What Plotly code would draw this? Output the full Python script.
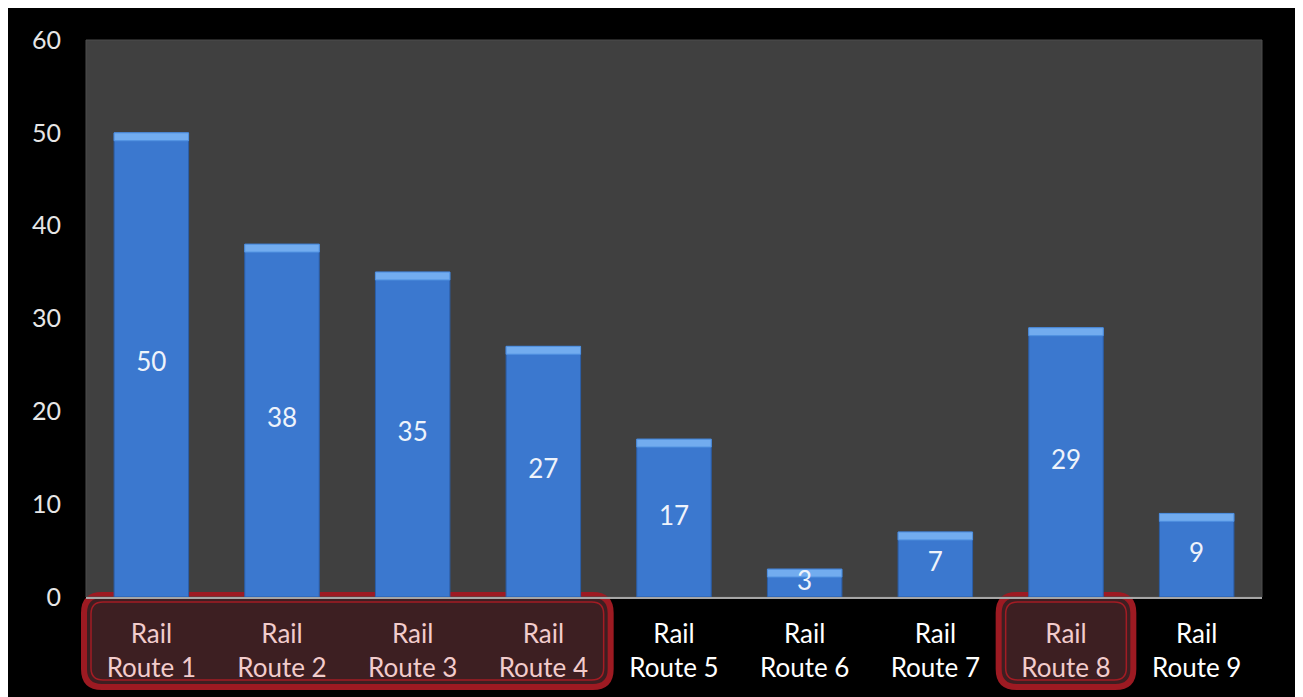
import plotly.graph_objects as go

# ---- data ----
categories = ["Rail Route 1", "Rail Route 2", "Rail Route 3", "Rail Route 4", "Rail Route 5",
              "Rail Route 6", "Rail Route 7", "Rail Route 8", "Rail Route 9"]
values = [50, 38, 35, 27, 17, 3, 7, 29, 9]
highlight_groups = [(0, 3), (7, 7)]   # index ranges of highlighted labels
y_ticks = [0, 10, 20, 30, 40, 50, 60]

# ---- layout constants (figure pixels) ----
W, H = 1295, 689
ML, MR, MT, MB = 78, 41, 32, 100
PW, PH = W - ML - MR, H - MT - MB
N = len(categories)


def px(x):
    return (x - ML) / PW


def py(y):
    return (H - MB - y) / PH


highlighted = set()
for a, b in highlight_groups:
    highlighted.update(range(a, b + 1))


def tick_label(i, name):
    first, second = name.split(" ", 1)
    if i in highlighted:
        c = "#f2cccc"
        return f"<span style='color:{c}'>{first}</span><br><span style='color:{c}'>{second}</span>"
    return f"{first}<br>{second}"


xs = list(range(N))
ticktext = [tick_label(i, c) for i, c in enumerate(categories)]

BEVEL = 0.85
FONT = "Lato"

fig = go.Figure()
fig.add_trace(go.Bar(
    x=xs, y=values, width=0.57,
    marker=dict(color="#3b78cf", line=dict(color="#2b5ea8", width=1)),
    hoverinfo="skip", showlegend=False,
))
fig.add_trace(go.Bar(
    x=xs, y=[BEVEL] * N, base=[v - BEVEL for v in values], width=0.57,
    marker=dict(color="#72acef", line=dict(color="#4f90e0", width=1)),
    hoverinfo="skip", showlegend=False,
))
fig.add_trace(go.Scatter(
    x=xs, y=[v / 2 for v in values], mode="text", text=[str(v) for v in values],
    textposition="middle center",
    textfont=dict(family=FONT, size=26, color="#eef3fb"),
    hoverinfo="skip", showlegend=False, cliponaxis=False,
))


def rrect(x0, x1, yt, yb, rx, ry):
    return (f"M {x0 + rx},{yt} L {x1 - rx},{yt} Q {x1},{yt} {x1},{yt - ry} "
            f"L {x1},{yb + ry} Q {x1},{yb} {x1 - rx},{yb} "
            f"L {x0 + rx},{yb} Q {x0},{yb} {x0},{yb + ry} "
            f"L {x0},{yt - ry} Q {x0},{yt} {x0 + rx},{yt} Z")


shapes = []
# white page edge on the right (under everything else)
shapes.append(dict(type="rect", xref="paper", yref="paper", x0=px(1287), x1=px(W + 2), y0=py(H + 2), y1=py(-2),
                   fillcolor="white", line=dict(width=0), layer="below"))
for a, b in highlight_groups:
    x0, x1 = a / N, (b + 1) / N
    shapes.append(dict(type="path", xref="paper", yref="paper",
                       path=rrect(x0 - 2 / PW, x1 + 2 / PW, 2 / PH, -90 / PH, 18 / PW, 18 / PH),
                       fillcolor="#3d1f22", line=dict(color="#9d1a22", width=6), layer="below"))
    shapes.append(dict(type="path", xref="paper", yref="paper",
                       path=rrect(x0 + 5 / PW, x1 - 5 / PW, -5 / PH, -83 / PH, 12 / PW, 12 / PH),
                       line=dict(color="#a31c24", width=1.5), layer="below"))

# plot frame
shapes.append(dict(type="rect", xref="paper", yref="paper", x0=0, x1=1, y0=0, y1=1,
                   line=dict(color="#4d4d4d", width=1), layer="below"))

annotations = [dict(text="(", xref="paper", yref="paper", x=px(1289), y=py(657),
                    xanchor="left", yanchor="middle", showarrow=False,
                    font=dict(family=FONT, size=26, color="#444444"))]

fig.update_layout(
    width=W, height=H,
    margin=dict(l=ML, r=MR, t=MT, b=MB, pad=0),
    paper_bgcolor="black", plot_bgcolor="#404040",
    barmode="overlay",
    shapes=shapes, annotations=annotations,
    xaxis=dict(range=[-0.5, N - 0.5], tickvals=xs, ticktext=ticktext,
               showgrid=False, zeroline=False, showline=True, linecolor="#a6a6a6", linewidth=2,
               ticks="", tickfont=dict(family=FONT, size=26, color="#ffffff"),
               ticklabelstandoff=13, fixedrange=True),
    yaxis=dict(range=[0, 60], tickvals=y_ticks, showgrid=False, zeroline=False, showline=False,
               ticks="", tickfont=dict(family=FONT, size=25, color="#e6e6e6"),
               ticklabelstandoff=24, fixedrange=True),
)

fig.write_html("out.html")
